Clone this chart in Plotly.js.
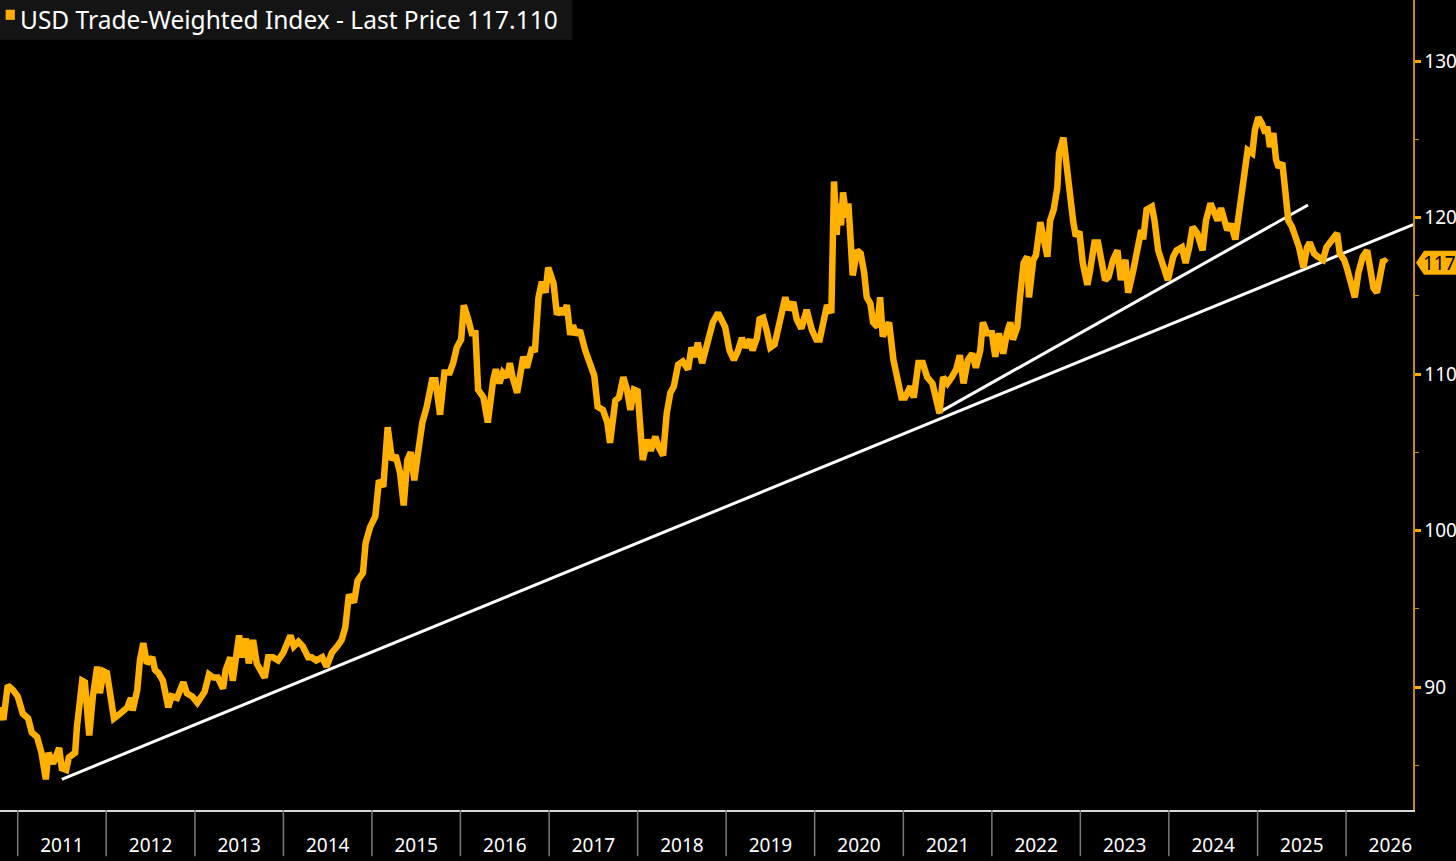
<!DOCTYPE html>
<html>
<head>
<meta charset="utf-8">
<script src="https://cdn.plot.ly/plotly-3.0.1.min.js"></script>
<style>
html,body{margin:0;padding:0;background:#000;}
#chart{width:1456px;height:861px;}
</style>
</head>
<body>
<div id="chart"></div>
<script>
// Dates as decimal years
const seriesTime = [
2010.80,2010.84,2010.89,2010.95,2011.00,2011.03,2011.06,2011.12,2011.16,2011.22,2011.27,2011.32,2011.35,2011.40,2011.43,2011.47,2011.50,2011.55,2011.58,2011.65,2011.67,2011.73,2011.76,2011.81,2011.85,2011.90,2011.93,2011.97,
2012.01,2012.07,2012.09,2012.16,2012.24,2012.28,2012.30,2012.35,2012.38,2012.42,2012.46,2012.52,2012.55,2012.59,2012.64,2012.70,2012.74,2012.80,2012.87,2012.91,2012.97,
2013.03,2013.06,2013.11,2013.16,2013.21,2013.26,2013.32,2013.35,2013.40,2013.43,2013.47,2013.50,2013.53,2013.58,2013.61,2013.66,2013.70,2013.75,2013.79,2013.83,2013.88,2013.94,
2014.00,2014.08,2014.12,2014.17,2014.22,2014.28,2014.32,2014.37,2014.44,2014.49,2014.55,2014.61,2014.66,2014.70,2014.74,2014.80,2014.84,2014.90,2014.93,2014.98,
2015.04,2015.08,2015.13,2015.18,2015.23,2015.27,2015.32,2015.36,2015.40,2015.44,2015.48,2015.51,2015.57,2015.62,2015.68,2015.72,2015.77,2015.82,2015.88,2015.92,2015.96,
2016.01,2016.04,2016.09,2016.13,2016.17,2016.20,2016.26,2016.31,2016.37,2016.40,2016.44,2016.48,2016.53,2016.56,2016.59,2016.64,2016.67,2016.71,2016.75,2016.81,2016.84,2016.88,2016.92,2016.96,2016.99,
2017.05,2017.09,2017.13,2017.16,2017.20,2017.24,2017.27,2017.31,2017.35,2017.41,2017.46,2017.51,2017.55,2017.61,2017.66,2017.69,2017.75,2017.79,2017.84,2017.88,2017.92,2017.96,
2018.00,2018.03,2018.06,2018.11,2018.15,2018.20,2018.24,2018.29,2018.33,2018.37,2018.41,2018.46,2018.51,2018.57,2018.61,2018.65,2018.68,2018.73,2018.76,2018.80,2018.85,2018.91,2018.99,
2019.04,2019.09,2019.13,2019.18,2019.22,2019.27,2019.30,2019.35,2019.38,2019.42,2019.46,2019.50,2019.55,2019.61,2019.67,2019.71,2019.76,2019.80,2019.85,2019.88,2019.91,2019.97,
2020.02,2020.06,2020.11,2020.14,2020.19,2020.20,2020.22,2020.25,2020.27,2020.30,2020.32,2020.36,2020.38,2020.40,2020.43,2020.48,2020.52,2020.56,2020.59,2020.63,2020.66,2020.71,2020.74,2020.77,2020.81,2020.84,2020.89,2020.93,2020.98,
2021.02,2021.08,2021.12,2021.17,2021.22,2021.27,2021.33,2021.37,2021.41,2021.45,2021.50,2021.55,2021.60,2021.64,2021.68,2021.73,2021.78,2021.82,2021.87,2021.90,2021.95,
2022.00,2022.04,2022.08,2022.13,2022.17,2022.21,2022.24,2022.29,2022.32,2022.36,2022.40,2022.42,2022.47,2022.50,2022.55,2022.58,2022.63,2022.66,2022.70,2022.74,2022.76,2022.81,2022.83,2022.86,2022.92,2022.95,2022.99,
2023.03,2023.08,2023.11,2023.16,2023.20,2023.25,2023.28,2023.32,2023.37,2023.42,2023.46,2023.51,2023.54,2023.60,2023.64,2023.69,2023.71,2023.75,2023.81,2023.84,2023.88,2023.93,2023.99,
2024.05,2024.09,2024.15,2024.19,2024.23,2024.27,2024.32,2024.38,2024.42,2024.47,2024.50,2024.55,2024.59,2024.62,2024.66,2024.70,2024.75,2024.78,2024.83,2024.86,2024.89,2024.94,2024.97,
2025.01,2025.05,2025.09,2025.11,2025.14,2025.18,2025.21,2025.24,2025.28,2025.31,2025.35,2025.39,2025.44,2025.47,2025.52,2025.56,2025.59,2025.64,2025.68,2025.74,2025.78,2025.82,2025.87,2025.90,2025.93,2025.98,
2026.01,2026.07,2026.10,2026.14,2026.19,2026.24,2026.27,2026.31,2026.35,2026.39,2026.42,2026.46
];
const seriesValue = [
88.7,87.9,90.1,89.8,89.4,88.7,88.3,88.0,87.1,86.8,85.8,84.1,85.8,85.1,85.5,86.1,84.8,84.7,85.5,85.8,87.4,90.4,90.3,86.9,89.4,91.3,89.6,91.0,
90.9,88.7,88.0,88.3,88.7,89.3,88.5,89.8,91.7,92.8,91.5,91.9,91.1,90.9,90.4,88.7,89.4,89.3,90.3,89.6,89.4,
89.0,89.3,89.7,90.8,90.6,90.6,89.9,91.1,91.9,90.4,92.4,93.3,91.9,93.1,91.5,93.0,91.5,91.1,90.6,91.9,91.9,91.7,
92.2,93.3,92.6,92.9,92.6,91.9,91.9,91.7,91.9,91.3,92.2,92.6,93.0,93.8,95.9,95.4,96.8,97.3,99.2,100.2,
100.9,103.2,102.8,106.6,104.5,104.8,103.7,101.6,104.5,105.0,103.2,104.5,106.9,107.9,109.6,109.6,107.4,110.1,110.1,110.7,111.7,
112.2,114.4,113.5,112.6,112.6,109.0,108.5,106.9,109.6,110.3,109.4,110.1,109.8,110.7,109.8,108.8,109.8,111.1,110.4,111.7,111.4,114.9,115.9,115.2,116.8,
115.8,113.8,114.2,113.8,114.4,112.5,113.1,112.5,112.8,111.5,110.7,109.9,107.9,107.7,106.9,105.6,108.3,108.5,109.8,109.0,107.7,109.0,
108.9,107.3,104.5,105.8,105.1,106.0,105.3,104.8,107.5,108.8,109.2,110.6,110.8,110.3,111.7,111.1,112.0,110.7,111.3,111.9,113.3,113.9,113.0,
111.5,110.9,111.4,112.3,111.7,112.2,111.5,112.3,113.5,113.6,112.8,111.7,111.9,113.6,114.9,114.1,114.6,113.5,112.9,113.5,114.1,112.8,
112.2,112.2,113.5,114.4,113.9,118.8,122.3,118.9,120.9,119.5,121.6,120.0,120.9,119.2,116.3,117.9,117.7,116.5,114.9,114.5,113.3,113.0,114.9,112.4,113.1,113.3,110.9,109.6,108.5,
108.5,109.2,108.5,110.7,110.7,109.8,109.4,108.2,107.5,109.8,109.4,109.8,110.3,111.2,109.4,110.9,111.3,110.4,111.5,113.3,112.6,
112.6,111.1,112.6,111.3,112.6,113.3,112.2,113.0,114.9,117.1,117.5,114.9,117.3,117.6,119.7,118.8,117.5,119.8,120.5,121.9,124.1,125.1,124.1,122.2,119.8,118.8,119.1,
117.1,115.7,116.6,118.4,118.4,116.6,116.0,116.2,117.3,117.9,116.0,117.3,115.2,116.6,117.9,119.2,118.6,120.5,120.7,119.8,117.9,117.1,116.0,
117.5,117.9,118.1,117.1,118.1,119.4,119.0,117.9,119.8,120.9,120.5,119.8,120.6,120.0,119.2,119.6,118.6,119.8,121.8,123.5,124.3,124.1,125.6,
126.4,126.0,125.4,125.8,124.5,125.4,123.7,123.2,123.5,121.3,119.8,119.4,118.6,118.1,116.8,118.1,118.4,117.7,117.5,117.3,118.1,118.4,118.8,119.0,117.7,117.3,
116.8,115.6,114.9,116.5,117.5,117.9,116.8,115.5,115.2,116.5,117.3,117.11
];
// Trend lines drawn on the reference (decimal years / index values)
const trendLongTime = [2011.50, 2026.76];
const trendLongValue = [84.1, 119.55];
const trendShortTime = [2021.39, 2025.57];
const trendShortValue = [107.5, 120.8];
const yearLabels = [2011,2012,2013,2014,2015,2016,2017,2018,2019,2020,2021,2022,2023,2024,2025,2026];
const lastPrice = 117.11;
const titleText = "USD Trade-Weighted Index - Last Price 117.110";

function decToDate(t){
  const y = Math.floor(t);
  const a = Date.UTC(y,0,1), b = Date.UTC(y+1,0,1);
  return new Date(a + (t - y) * (b - a)).toISOString().slice(0,10);
}

const ORANGE = '#ffb000';
const AXIS = '#c8890f';

const traces = [
  {x: trendLongTime.map(decToDate), y: trendLongValue, type:'scatter', mode:'lines',
   line:{color:'#ffffff', width:3}, hoverinfo:'skip', showlegend:false},
  {x: trendShortTime.map(decToDate), y: trendShortValue, type:'scatter', mode:'lines',
   line:{color:'#ffffff', width:3}, hoverinfo:'skip', showlegend:false},
  {x: seriesTime.map(decToDate), y: seriesValue, type:'scatter', mode:'lines',
   line:{color:ORANGE, width:6.5}, hoverinfo:'skip', showlegend:false}
];

const shapes = [];
// year separators below the axis
yearLabels.forEach(yr => {
  shapes.push({type:'line', xref:'x', yref:'paper', x0: yr+'-01-01', x1: yr+'-01-01',
    y0: 0, y1: -0.057, line:{color:'#7a7a7a', width:1.5}});
});
// title background
shapes.push({type:'rect', xref:'paper', yref:'paper', x0:0, x1:0.405, y0:0.951, y1:1,
  fillcolor:'#141414', line:{width:0}, layer:'above'});
// legend square
shapes.push({type:'rect', xref:'paper', yref:'paper', x0:0.0040, x1:0.0105, y0:0.9755, y1:0.9880,
  fillcolor:ORANGE, line:{width:0}, layer:'above'});
// last price tag
shapes.push({type:'path', xref:'paper', yref:'y', xsizemode:'pixel', ysizemode:'pixel',
  xanchor:1, yanchor:lastPrice,
  path:'M 3 0 L 11 12 L 43 12 L 43 -12 L 11 -12 Z',
  fillcolor:ORANGE, line:{width:0}});

const layout = {
  width:1456, height:861,
  paper_bgcolor:'#000000', plot_bgcolor:'#000000',
  margin:{l:0, r:43, t:0, b:51, pad:0},
  showlegend:false,
  xaxis:{
    type:'date', range:['2010-10-20','2026-10-04'],
    showgrid:false, zeroline:false,
    showline:true, linecolor:'#d8d8d8', linewidth:1.5,
    ticks:'', dtick:'M12', tick0:'2011-01-01', tickformat:'%Y',
    ticklabelmode:'period', ticklabelstandoff:18,
    tickfont:{family:'Noto Sans, sans-serif', size:19, color:'#ffffff'},
    fixedrange:true
  },
  yaxis:{
    side:'right', range:[82.14, 133.9],
    showgrid:false, zeroline:false,
    showline:true, linecolor:AXIS, linewidth:1.5,
    tickvals:[90,100,110,120,130], ticktext:['90','100','110','120','130'],
    ticks:'outside', ticklen:6, tickwidth:3, tickcolor:ORANGE,
    minor:{tickvals:[85,95,105,115,125], ticks:'outside', ticklen:4, tickwidth:1, tickcolor:AXIS},
    tickfont:{family:'Noto Sans, sans-serif', size:19, color:'#ffffff'},
    fixedrange:true
  },
  shapes: shapes,
  annotations:[
    {xref:'paper', yref:'paper', x:0.0125, y:0.9755, xanchor:'left', yanchor:'middle',
     text:titleText, showarrow:false,
     font:{family:'Noto Sans, sans-serif', size:24.5, color:'#ffffff'}},
    {xref:'paper', yref:'y', x:1, y:lastPrice, xanchor:'left', yanchor:'middle', xshift:8,
     text:String(Math.round(lastPrice)), showarrow:false,
     font:{family:'Noto Sans, sans-serif', size:19, color:'#000000'}}
  ]
};

Plotly.newPlot('chart', traces, layout, {staticPlot:true, displayModeBar:false});
</script>
</body>
</html>
